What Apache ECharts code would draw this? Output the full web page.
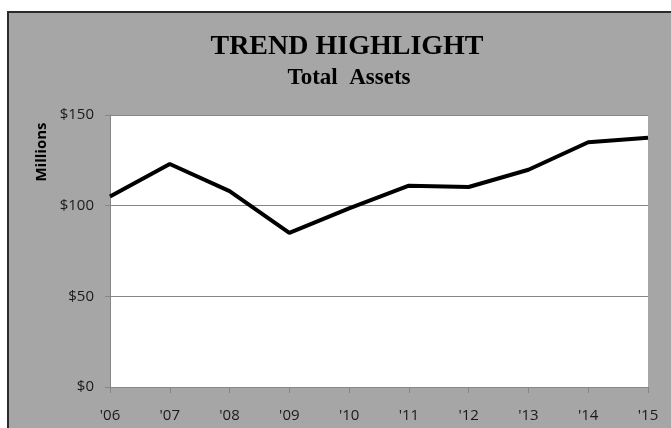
<!DOCTYPE html>
<html>
<head>
<meta charset="utf-8">
<script src="https://cdn.jsdelivr.net/npm/echarts@6/dist/echarts.min.js"></script>
<style>
  html, body { margin: 0; padding: 0; background: #fff; }
  #chart { width: 671px; height: 428px; }
</style>
</head>
<body>
<div id="chart"></div>
<script>
// total assets, millions
var years = ["'06", "'07", "'08", "'09", "'10", "'11", "'12", "'13", "'14", "'15"];
var assets = [105, 123, 108, 85, 98.5, 111, 110.3, 119.8, 135, 137.5];
var yTicks = [0, 50, 100, 150];

var chart = echarts.init(document.getElementById('chart'));

var option = {
    animation: false,
    backgroundColor: '#fff',
    title: [
        {
            text: 'TREND HIGHLIGHT',
            left: 342,
            top: 28,
            textAlign: 'center',
            textStyle: {
                fontFamily: 'Liberation Serif',
                fontWeight: 'bold',
                fontSize: 28,
                color: '#000'
            }
        },
        {
            text: 'Total  Assets',
            left: 344,
            top: 62,
            textAlign: 'center',
            textStyle: {
                fontFamily: 'Liberation Serif',
                fontWeight: 'bold',
                fontSize: 23,
                color: '#000'
            }
        }
    ],
    graphic: [
        {
            type: 'rect',
            z: -10,
            shape: { x: 8, y: 12, width: 700, height: 440 },
            style: { fill: '#a6a6a6', stroke: '#2b2b2b', lineWidth: 2 }
        },
        {
            type: 'text',
            x: 42,
            y: 152,
            rotation: Math.PI / 2,
            style: {
                text: 'Millions',
                fontFamily: 'Open Sans',
                fontWeight: 'bold',
                fontSize: 15,
                fill: '#000',
                align: 'center',
                verticalAlign: 'middle'
            }
        }
    ],
    grid: {
        left: 110,
        right: 23,
        top: 115,
        bottom: 41,
        show: true,
        backgroundColor: '#fff',
        borderWidth: 0
    },
    xAxis: {
        type: 'category',
        data: years,
        boundaryGap: false,
        axisLine: { lineStyle: { color: '#868686', width: 1 } },
        axisTick: { show: true, length: 6, lineStyle: { color: '#868686' } },
        axisLabel: {
            margin: 21,
            fontFamily: 'Open Sans',
            fontSize: 15,
            color: '#1a1a1a'
        },
        splitLine: { show: false }
    },
    yAxis: {
        type: 'value',
        min: yTicks[0],
        max: yTicks[yTicks.length - 1],
        interval: 50,
        axisLine: { show: true, lineStyle: { color: '#868686', width: 1 } },
        axisTick: { show: true, length: 5, lineStyle: { color: '#868686' } },
        axisLabel: {
            margin: 16,
            fontFamily: 'Open Sans',
            fontSize: 15,
            color: '#1a1a1a',
            formatter: function (v) { return '$' + v; }
        },
        splitLine: { show: true, lineStyle: { color: '#868686', width: 1 } }
    },
    series: [
        {
            name: 'Total Assets',
            type: 'line',
            data: assets,
            symbol: 'none',
            lineStyle: { color: '#000', width: 4 },
            itemStyle: { color: '#000' }
        }
    ]
};
chart.setOption(option);
window.addEventListener('resize', function () {
    chart.resize();
});
</script>
</body>
</html>
